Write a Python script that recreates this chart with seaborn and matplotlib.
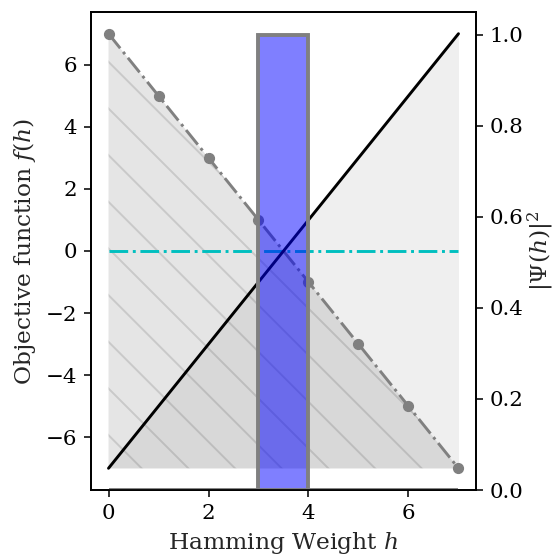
import numpy as np
import pandas as pd
import seaborn as sns
import matplotlib.pyplot as plt

# values
h = [0, 1, 2, 3, 4, 5, 6, 7]
f_h = [7, 5, 3, 1, -1, -3, -5, -7]
g_h = [-7, -5, -3, -1, 1, 3, 5, 7]
zero_h = [0, 0, 0, 0, 0, 0, 0, 0]
bar_h = [0, 1, 2, 3, 4, 5, 6]
psi = [0, 0, 0, 1, 0, 0, 0]

df = pd.DataFrame({'h': h, 'f': f_h, 'g': g_h, 'zero': zero_h})

sns.set_style('ticks')
plt.rcParams['font.family'] = ['DejaVu Serif']
plt.rcParams['mathtext.fontset'] = 'dejavuserif'
plt.rcParams['font.size'] = 11
plt.rcParams['xtick.major.size'] = 3.5
plt.rcParams['ytick.major.size'] = 3.5
plt.rcParams['xtick.major.width'] = 0.8
plt.rcParams['ytick.major.width'] = 0.8
plt.rcParams['axes.edgecolor'] = 'black'
plt.rcParams['axes.linewidth'] = 0.9
plt.rcParams['xtick.color'] = 'black'
plt.rcParams['ytick.color'] = 'black'

DPI = 140
fig = plt.figure(figsize=(559 / DPI, 555 / DPI), dpi=DPI)
ax = fig.add_axes([0.1628, 0.1171, 0.6887, 0.8613])

# shaded regions
ax.fill_between(df['h'], df['g'], -7, color='gray', alpha=0.12, linewidth=0)
ax.fill_between(df['h'], df['f'], -7, facecolor=(0.5, 0.5, 0.5, 0.2),
                hatch='\\', edgecolor=(0, 0, 0, 0.12), linewidth=0)

sns.lineplot(data=df, x='h', y='zero', ax=ax, color='#00BFBF', linestyle='-.', lw=1.5)
sns.lineplot(data=df, x='h', y='f', ax=ax, color='gray', linestyle='-.', lw=1.5,
             marker='o', markersize=5, markeredgecolor='gray')
sns.lineplot(data=df, x='h', y='g', ax=ax, color='black', lw=1.5)

ax.set_xlabel('Hamming Weight $h$', fontsize=12)
ax.set_ylabel('Objective function $f(h)$', fontsize=12)
ax.set_xticks([0, 2, 4, 6])
ax.set_yticks([-6, -4, -2, 0, 2, 4, 6])
ax.tick_params(labelsize=11)

ax2 = ax.twinx()
ax2.bar(bar_h, psi, width=1, align='edge', color=(0, 0, 1, 0.5),
        edgecolor='gray', linewidth=2)
ax2.set_ylabel(r'$|\Psi(h)|^2$', fontsize=12, labelpad=1)
ax2.set_yticks([0.0, 0.2, 0.4, 0.6, 0.8, 1.0])
ax2.tick_params(labelsize=11)
ax.set_xlim(-0.35, 7.35)

fig.savefig('out.png', dpi=DPI)
